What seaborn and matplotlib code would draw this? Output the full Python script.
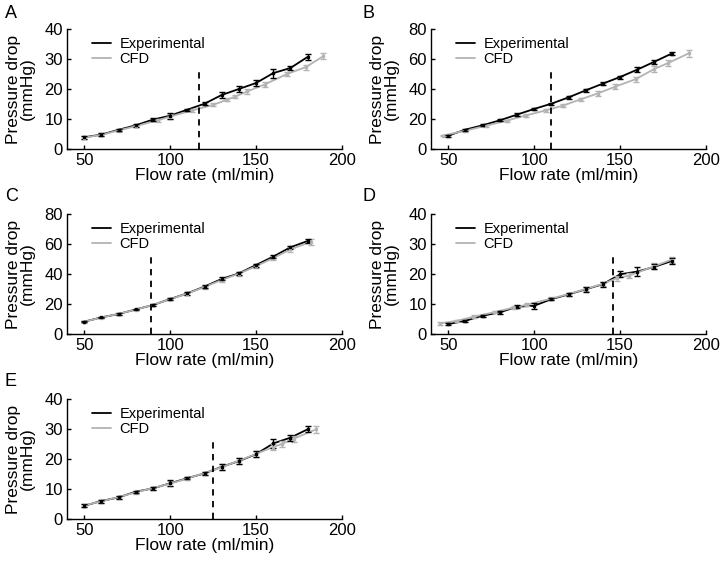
import numpy as np
import pandas as pd
import matplotlib
matplotlib.use('Agg')
import matplotlib.pyplot as plt
import seaborn as sns

# Datos (caudal en ml/min, caida de presion en mmHg)
flow_exp = [50, 60, 70, 80, 90, 100, 110, 120, 130, 140, 150, 160, 170, 180]

dp_exp_A = [3.9, 4.8, 6.4, 7.9, 9.8, 11.1, 13.1, 15.1, 18.0, 20.0, 22.0, 25.3, 27.0, 30.7]
err_exp_A = [0.4, 0.4, 0.4, 0.4, 0.5, 1.0, 0.4, 0.5, 1.0, 1.0, 1.0, 1.5, 0.8, 1.0]
flow_cfd_A = [50, 60, 70, 80, 93, 100, 113, 125, 133, 138, 145, 155, 168, 179, 189]
dp_cfd_A = [3.8, 4.7, 6.2, 7.6, 9.6, 10.8, 12.9, 14.7, 16.4, 17.5, 19.2, 21.5, 25.0, 27.3, 30.9]
err_cfd_A = [0.5, 0.5, 0.4, 0.4, 0.5, 0.8, 0.5, 0.5, 0.5, 0.6, 0.7, 0.7, 0.8, 0.8, 1.0]

dp_exp_B = [8.9, 12.9, 15.8, 19.1, 22.9, 26.7, 30.2, 34.4, 39.1, 43.6, 48.0, 52.9, 58.2, 63.6]
err_exp_B = [0.6, 0.6, 0.6, 0.6, 0.8, 0.8, 0.8, 0.8, 1.2, 1.0, 1.0, 1.6, 1.2, 1.0]
flow_cfd_B = [47, 60, 72, 84, 95, 107, 117, 127, 137, 147, 159, 170, 178, 190]
dp_cfd_B = [9.0, 12.2, 15.5, 18.9, 22.3, 25.8, 29.0, 33.1, 37.0, 41.5, 46.5, 53.4, 57.3, 63.8]
err_cfd_B = [0.6, 0.6, 0.6, 0.6, 0.8, 0.8, 0.8, 1.0, 1.6, 1.6, 1.6, 2.0, 2.0, 2.2]

dp_exp_C = [8.2, 11.1, 13.3, 16.4, 19.3, 23.3, 27.1, 31.6, 36.7, 40.4, 46.0, 51.6, 57.8, 62.0]
err_exp_C = [0.5, 0.5, 0.5, 0.5, 0.6, 0.8, 0.8, 1.0, 1.0, 1.0, 1.0, 1.0, 1.0, 1.5]
flow_cfd_C = [50, 60, 70, 80, 90, 100, 110, 120, 130, 140, 150, 160, 170, 182]
dp_cfd_C = [8.2, 11.0, 13.4, 16.3, 19.4, 23.2, 27.0, 31.3, 36.0, 40.2, 45.2, 50.6, 56.4, 61.5]
err_cfd_C = [0.6, 0.6, 0.6, 0.6, 0.6, 0.8, 0.8, 1.0, 1.2, 1.2, 1.2, 1.4, 1.6, 2.0]

flow_exp_D = [50, 60, 70, 80, 90, 100, 110, 120, 130, 140, 150, 160, 170, 180]
dp_exp_D = [3.3, 4.4, 6.1, 7.2, 9.1, 9.4, 11.6, 13.2, 14.9, 16.6, 19.9, 20.8, 22.4, 24.3]
err_exp_D = [0.4, 0.4, 0.4, 0.4, 0.5, 1.0, 0.4, 0.5, 0.8, 0.8, 1.0, 1.4, 0.8, 1.0]
flow_cfd_D = [45, 55, 65, 77, 88, 96, 110, 120, 130, 140, 148, 155, 170, 180]
dp_cfd_D = [3.5, 4.4, 5.8, 7.3, 8.8, 9.8, 11.8, 13.3, 15.0, 16.7, 18.6, 19.4, 22.6, 24.8]
err_cfd_D = [0.4, 0.4, 0.4, 0.4, 0.5, 0.5, 0.5, 0.5, 0.8, 0.8, 0.8, 0.8, 1.0, 1.0]

dp_exp_E = [4.4, 6.0, 7.2, 9.1, 10.2, 11.9, 13.6, 15.2, 17.4, 19.3, 21.6, 25.2, 27.1, 29.9]
err_exp_E = [0.5, 0.5, 0.5, 0.4, 0.5, 1.0, 0.4, 0.5, 1.0, 1.0, 1.0, 1.6, 1.0, 1.0]
flow_cfd_E = [50, 60, 70, 80, 90, 100, 110, 120, 130, 140, 150, 160, 165, 172, 185]
dp_cfd_E = [4.5, 5.9, 7.3, 8.9, 10.3, 11.8, 13.5, 15.3, 17.3, 19.4, 21.7, 24.0, 25.0, 26.8, 29.9]
err_cfd_E = [0.5, 0.5, 0.5, 0.5, 0.5, 0.8, 0.5, 0.5, 1.0, 1.0, 1.0, 1.0, 1.0, 1.0, 1.2]

# Linea vertical discontinua (umbral) y altura a la que llega
umbral = {'A': 117, 'B': 110, 'C': 89, 'D': 146, 'E': 125}
umbral_alto = {'A': 26.2, 'B': 52.4, 'C': 51.5, 'D': 25.8, 'E': 25.8}
y_max = {'A': 40, 'B': 80, 'C': 80, 'D': 40, 'E': 40}

paneles = {
    'A': (flow_exp, dp_exp_A, err_exp_A, flow_cfd_A, dp_cfd_A, err_cfd_A),
    'B': (flow_exp, dp_exp_B, err_exp_B, flow_cfd_B, dp_cfd_B, err_cfd_B),
    'C': (flow_exp, dp_exp_C, err_exp_C, flow_cfd_C, dp_cfd_C, err_cfd_C),
    'D': (flow_exp_D, dp_exp_D, err_exp_D, flow_cfd_D, dp_cfd_D, err_cfd_D),
    'E': (flow_exp, dp_exp_E, err_exp_E, flow_cfd_E, dp_cfd_E, err_cfd_E),
}

sns.set_style('ticks')
plt.rcParams['font.family'] = ['Liberation Sans', 'DejaVu Sans']
plt.rcParams['xtick.direction'] = 'in'
plt.rcParams['ytick.direction'] = 'in'
for k in ['text.color', 'axes.labelcolor', 'xtick.color', 'ytick.color', 'axes.edgecolor']:
    plt.rcParams[k] = 'black'

fig = plt.figure(figsize=(7.21, 5.65), dpi=100)

# posiciones en pixeles (izq, arriba) de cada eje
pos = {'A': (67, 29), 'B': (431, 29), 'C': (67, 214), 'D': (431, 214), 'E': (67, 399)}
letra_pos = {'A': (5, 5), 'B': (362, 5), 'C': (5, 188), 'D': (362, 188), 'E': (5, 373)}
W, H = 721, 565
ancho, alto = 275, 120

gris = '#b3b3b3'

for p, (fx, ye, ee, fc, yc, ec) in paneles.items():
    izq, arr = pos[p]
    ax = fig.add_axes([izq / W, 1 - (arr + alto) / H, ancho / W, alto / H])

    df_exp = pd.DataFrame({'flow': fx, 'dp': ye})
    df_cfd = pd.DataFrame({'flow': fc, 'dp': yc})

    sns.lineplot(data=df_exp, x='flow', y='dp', color='black', lw=1.3, ax=ax, label='Experimental')
    sns.lineplot(data=df_cfd, x='flow', y='dp', color=gris, lw=1.3, ax=ax, label='CFD')
    ax.errorbar(fc, yc, yerr=ec, fmt='s', ms=2, color=gris, capsize=2.5, elinewidth=1, capthick=1)
    ax.errorbar(fx, ye, yerr=ee, fmt='s', ms=2, color='black', capsize=2.5, elinewidth=1, capthick=1)

    ax.plot([umbral[p], umbral[p]], [0, umbral_alto[p]], color='black', lw=1.3, ls=(0, (3.5, 3)))

    ax.set_xlim(40, 200)
    ax.set_ylim(0, y_max[p])
    ax.set_xticks([50, 100, 150, 200])
    ax.set_yticks(np.linspace(0, y_max[p], 5))
    ax.tick_params(labelsize=12, length=3, width=1, pad=3)
    ax.set_xlabel('Flow rate (ml/min)', fontsize=12.5, labelpad=0)
    ax.set_ylabel('Pressure drop\n(mmHg)', fontsize=12.5, linespacing=0.9)
    ax.yaxis.set_label_coords(-0.118, 0.5)
    sns.despine(ax=ax)
    for s in ['left', 'bottom']:
        ax.spines[s].set_linewidth(1)

    ax.legend(loc='upper left', bbox_to_anchor=(0.09, 0.93), frameon=False, fontsize=10.5,
              handlelength=1.3, handletextpad=0.6, labelspacing=0.05, borderpad=0, borderaxespad=0)

    lx, ly = letra_pos[p]
    fig.text(lx / W, 1 - ly / H, p, fontsize=13, ha='left', va='top')

fig.savefig('out.png', dpi=100)
